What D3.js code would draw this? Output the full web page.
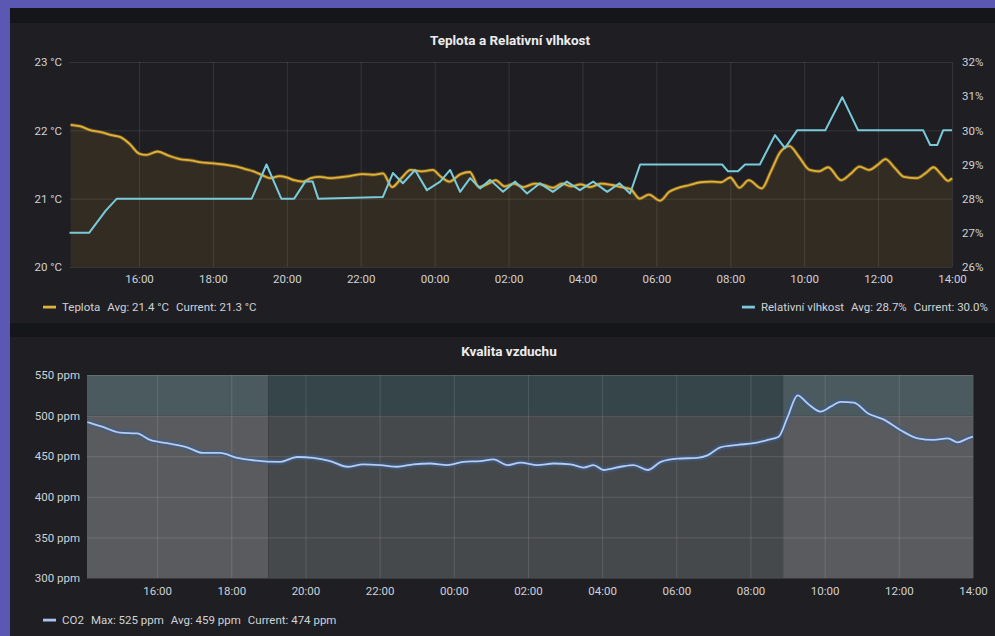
<!DOCTYPE html>
<html><head><meta charset="utf-8">
<script src="https://cdn.jsdelivr.net/npm/d3@7"></script>
<style>
html,body{margin:0;padding:0;background:#5b58b3;overflow:hidden;}
svg{display:block;font-family:Roboto,"Noto Sans",sans-serif;}
</style></head><body>
<svg id="c" width="995" height="636"></svg>
<script>
// ---------- DATA (hours since 14:00 of day one) ----------
const tempHours = [0.15,0.4,0.7,1.0,1.25,1.5,1.75,2.0,2.2,2.5,2.8,3.1,3.4,3.7,3.95,4.3,4.65,4.9,5.1,5.35,5.55,5.8,6.0,6.2,6.44,6.65,6.9,7.15,7.4,7.7,8.05,8.35,8.6,8.85,9.1,9.35,9.65,9.95,10.15,10.4,10.7,10.95,11.2,11.45,11.65,11.9,12.15,12.4,12.7,12.95,13.2,13.45,13.7,13.95,14.2,14.5,14.8,15.05,15.3,15.55,15.8,16.1,16.35,16.55,16.9,17.2,17.5,17.75,18.0,18.25,18.5,18.85,19.1,19.35,19.6,19.85,20.15,20.4,20.65,21.0,21.25,21.5,21.75,22.0,22.2,22.45,22.7,23.05,23.3,23.5,23.7,23.9,24.0];
const tempValues = [22.08,22.06,22.0,21.97,21.93,21.9,21.8,21.66,21.64,21.69,21.63,21.58,21.56,21.53,21.52,21.5,21.47,21.43,21.4,21.34,21.3,21.33,21.31,21.27,21.25,21.3,21.32,21.3,21.31,21.33,21.36,21.35,21.37,21.17,21.3,21.42,21.4,21.42,21.33,21.25,21.36,21.39,21.17,21.22,21.27,21.18,21.22,21.17,21.22,21.2,21.16,21.22,21.18,21.21,21.17,21.22,21.2,21.17,21.14,21.0,21.06,20.97,21.1,21.15,21.2,21.24,21.25,21.24,21.31,21.16,21.27,21.15,21.4,21.68,21.77,21.62,21.42,21.4,21.46,21.27,21.36,21.47,21.42,21.5,21.58,21.45,21.32,21.3,21.38,21.46,21.36,21.26,21.3];

const humHours = [0.12,0.65,1.1,1.4,5.05,5.45,5.85,6.2,6.5,6.7,6.85,8.6,8.87,9.14,9.47,9.79,10.15,10.42,10.69,10.96,11.23,11.5,11.85,12.18,12.5,12.85,13.2,13.58,13.93,14.29,14.67,15.0,15.29,15.56,17.78,17.94,18.21,18.4,18.8,19.21,19.48,19.81,20.57,21.03,21.46,23.22,23.41,23.6,23.76,24.0];
const humValues = [27.0,27.0,27.65,28.0,28.0,29.0,28.0,28.0,28.5,28.5,28.0,28.05,28.75,28.45,28.84,28.25,28.5,28.84,28.2,28.6,28.3,28.55,28.2,28.5,28.15,28.45,28.2,28.5,28.25,28.5,28.2,28.45,28.15,29.0,29.0,28.8,28.8,29.0,29.0,29.86,29.48,30.0,30.0,30.97,30.0,30.0,29.57,29.57,30.0,30.0];

const co2Hours = [0.12,0.19,0.54,1.0,1.46,1.81,2.27,2.81,3.24,3.70,4.16,4.59,5.32,5.78,6.21,6.67,7.13,7.56,8.02,8.48,8.91,9.37,9.83,10.26,10.72,11.07,11.45,11.80,12.26,12.69,13.15,13.50,13.77,14.04,14.50,14.85,15.23,15.58,16.03,16.57,16.84,17.19,17.65,18.09,18.46,18.76,19.00,19.27,19.54,19.89,20.16,20.43,20.79,21.16,21.60,22.05,22.51,22.94,23.32,23.59,23.86,24.0];
const co2Values = [492,491,486,479,478,470,466,461,454,454,448,445,443,449,448,444,437,440,439,437,440,441,439,443,444,446,439,442,439,441,440,436,439,433,437,439,433,443,447,448,451,461,464,466,470,474,498,525,515,505,511,517,516,503,495,482,472,470,472,467,472,474];

const tempTicks = [20,21,22,23];
const humTicks = [26,27,28,29,30,31,32];
const co2Ticks = [300,350,400,450,500,550];
const co2Threshold = 500;
const timeRegion = [5.0, 18.88]; // 19:00 -> 08:53 (hours offset)

const titles = ["Teplota a Relativní vlhkost", "Kvalita vzduchu"];
const legendTemp = ["Teplota", "Avg: 21.4 °C", "Current: 21.3 °C"];
const legendHum = ["Relativní vlhkost", "Avg: 28.7%", "Current: 30.0%"];
const legendCo2 = ["CO2", "Max: 525 ppm", "Avg: 459 ppm", "Current: 474 ppm"];

// ---------- helpers ----------
const base = new Date(2019,0,14,14,0).getTime();
const toDate = h => new Date(base + h*3600e3);
const zip = (hs, vs) => hs.map((h,i)=>({t:toDate(h), v:vs[i]}));
const temp = zip(tempHours,tempValues), hum = zip(humHours,humValues), co2 = zip(co2Hours,co2Values);
const fmt = d3.timeFormat("%H:%M");

const svg = d3.select("#c");
const TXT = "#cfd2d6";
const FS = 11.5;

// background structure
svg.append("rect").attr("x",10).attr("y",8).attr("width",985).attr("height",628).attr("fill","#151619");
svg.append("rect").attr("x",10).attr("y",23).attr("width",985).attr("height",300).attr("fill","#1f1f23");
svg.append("rect").attr("x",10).attr("y",337).attr("width",985).attr("height",299).attr("fill","#1f1f23");

svg.append("text").attr("x",510).attr("y",45).attr("text-anchor","middle").attr("fill","#ececee")
  .attr("font-size",13.5).attr("font-weight",700).text(titles[0]);
svg.append("text").attr("x",509).attr("y",356).attr("text-anchor","middle").attr("fill","#ececee")
  .attr("font-size",13.5).attr("font-weight",700).text(titles[1]);

// ---------- TOP CHART ----------
const T = {l:70, r:952, t:62, b:267};
const xT = d3.scaleTime().domain([toDate(0.133), toDate(24)]).range([T.l, T.r]);
const yT = d3.scaleLinear().domain([20,23]).range([T.b, T.t]);
const yH = d3.scaleLinear().domain([26,32]).range([T.b, T.t]);

const gT = svg.append("g");
gT.append("g").attr("transform",`translate(0,${T.b})`)
  .call(d3.axisBottom(xT).ticks(d3.timeHour.every(2)).tickSize(-(T.b-T.t)).tickFormat(""))
  .call(g=>{g.select(".domain").remove(); g.selectAll("line").attr("stroke","rgba(255,255,255,0.1)");});
gT.append("g").attr("transform",`translate(${T.l},0)`)
  .call(d3.axisLeft(yT).tickValues(tempTicks).tickSize(-(T.r-T.l)).tickFormat(""))
  .call(g=>{g.select(".domain").remove(); g.selectAll("line").attr("stroke","rgba(255,255,255,0.1)");});

gT.append("path").datum(temp)
  .attr("d", d3.area().x(d=>xT(d.t)).y0(T.b).y1(d=>yT(d.v)).curve(d3.curveMonotoneX))
  .attr("fill","rgba(224,170,40,0.1)");
gT.append("path").datum(temp)
  .attr("d", d3.line().x(d=>xT(d.t)).y(d=>yT(d.v)).curve(d3.curveMonotoneX))
  .attr("fill","none").attr("stroke","#b07a1e").attr("stroke-width",3.6).attr("opacity",0.55);
gT.append("path").datum(temp)
  .attr("d", d3.line().x(d=>xT(d.t)).y(d=>yT(d.v)).curve(d3.curveMonotoneX))
  .attr("fill","none").attr("stroke","#dcb43c").attr("stroke-width",1.8);
gT.append("path").datum(hum)
  .attr("d", d3.line().x(d=>xT(d.t)).y(d=>yH(d.v)))
  .attr("fill","none").attr("stroke","#79cbdb").attr("stroke-width",2).attr("stroke-linejoin","round");

const styleAxis = g => {g.select(".domain").remove(); g.selectAll("line").remove();
  g.selectAll("text").attr("fill",TXT).attr("font-size",FS).attr("font-family","Roboto, sans-serif");};
gT.append("g").attr("transform",`translate(0,${T.b})`)
  .call(d3.axisBottom(xT).ticks(d3.timeHour.every(2)).tickFormat(fmt).tickSize(0).tickPadding(8)).call(styleAxis);
gT.append("g").attr("transform",`translate(${T.l},0)`)
  .call(d3.axisLeft(yT).tickValues(tempTicks).tickFormat(d=>d+" °C").tickSize(0).tickPadding(8)).call(styleAxis);
gT.append("g").attr("transform",`translate(${T.r},0)`)
  .call(d3.axisRight(yH).tickValues(humTicks).tickFormat(d=>d+"%").tickSize(0).tickPadding(10)).call(styleAxis);

function legend(x, y, color, items, anchorEnd){
  const g = svg.append("g");
  const t = g.append("text").attr("x",0).attr("y",y+4).attr("font-size",FS).attr("fill",TXT);
  items.forEach((s,i)=>{ t.append("tspan").attr("dx", i===0?0:7).text(s); });
  const w = t.node().getBBox().width;
  const tx = anchorEnd ? x - w : x + 20;
  t.attr("x", tx);
  g.append("rect").attr("x", tx-19).attr("y", y-1.3).attr("width",13).attr("height",2.8).attr("fill",color);
}
legend(42, 307, "#dcb43c", legendTemp, false);
legend(988, 307, "#79cbdb", legendHum, true);

// ---------- BOTTOM CHART ----------
const B = {l:87, r:973, t:375, b:578};
const xB = d3.scaleTime().domain([toDate(0.11), toDate(24)]).range([B.l, B.r]);
const yB = d3.scaleLinear().domain([300,550]).range([B.b, B.t]);
const gB = svg.append("g");
const xr0 = xB(toDate(timeRegion[0])), xr1 = xB(toDate(timeRegion[1]));
const segs = [[B.l, xr0, false],[xr0, xr1, true],[xr1, B.r, false]];
segs.forEach(([a,b,dark])=>{
  gB.append("rect").attr("x",a).attr("y",yB(co2Threshold)).attr("width",b-a).attr("height",B.b-yB(co2Threshold))
    .attr("fill", dark ? "#46494c" : "#595b5e");
  gB.append("rect").attr("x",a).attr("y",B.t).attr("width",b-a).attr("height",yB(co2Threshold)-B.t)
    .attr("fill", dark ? "#36454a" : "#4a5a5e");
});
gB.append("g").attr("transform",`translate(0,${B.b})`)
  .call(d3.axisBottom(xB).ticks(d3.timeHour.every(2)).tickSize(-(B.b-B.t)).tickFormat(""))
  .call(g=>{g.select(".domain").remove(); g.selectAll("line").attr("stroke","rgba(255,255,255,0.12)");});
gB.append("g").attr("transform",`translate(${B.l},0)`)
  .call(d3.axisLeft(yB).tickValues(co2Ticks).tickSize(-(B.r-B.l)).tickFormat(""))
  .call(g=>{g.select(".domain").remove(); g.selectAll("line").attr("stroke","rgba(255,255,255,0.12)");});

const co2Line = d3.line().x(d=>xB(d.t)).y(d=>yB(d.v)).curve(d3.curveMonotoneX);
gB.append("path").datum(co2).attr("d",co2Line).attr("fill","none")
  .attr("stroke","#3d5c92").attr("stroke-width",6).attr("opacity",0.55);
gB.append("path").datum(co2).attr("d",co2Line).attr("fill","none")
  .attr("stroke","#b4cdf2").attr("stroke-width",1.8);

gB.append("g").attr("transform",`translate(0,${B.b})`)
  .call(d3.axisBottom(xB).ticks(d3.timeHour.every(2)).tickFormat(fmt).tickSize(0).tickPadding(9)).call(styleAxis);
gB.append("g").attr("transform",`translate(${B.l},0)`)
  .call(d3.axisLeft(yB).tickValues(co2Ticks).tickFormat(d=>d+" ppm").tickSize(0).tickPadding(7)).call(styleAxis);

legend(42, 620, "#a9c4ef", legendCo2, false);
</script>
</body></html>
